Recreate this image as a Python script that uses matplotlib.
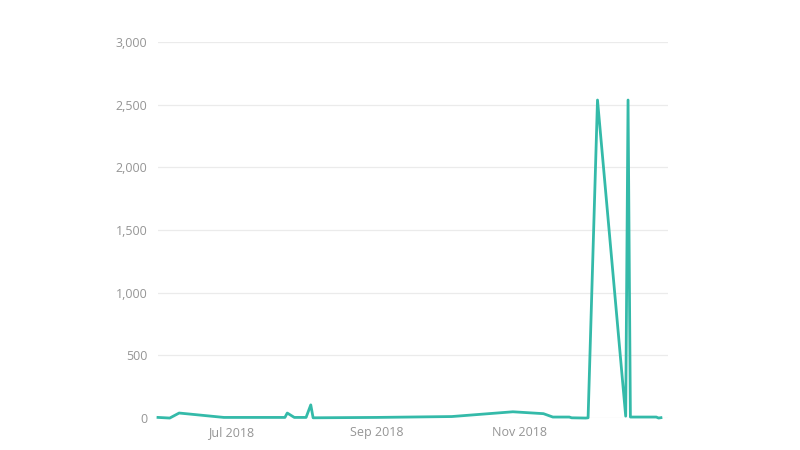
import matplotlib
matplotlib.use("Agg")
import matplotlib.pyplot as plt
import matplotlib.dates as mdates
import pandas as pd

dates = ["2018-05-31", "2018-06-05", "2018-06-09", "2018-06-28", "2018-07-24",
         "2018-07-25", "2018-07-28", "2018-08-02", "2018-08-04", "2018-08-05",
         "2018-09-01", "2018-10-03", "2018-10-29", "2018-11-11", "2018-11-15",
         "2018-11-22", "2018-11-23", "2018-11-29", "2018-11-30", "2018-12-04",
         "2018-12-16", "2018-12-17", "2018-12-18", "2018-12-29", "2018-12-30",
         "2018-12-31"]
values = [5, 0, 40, 5, 5,
          40, 5, 5, 105, 2,
          5, 12, 50, 35, 8,
          8, 2, 0, 2, 2537,
          15, 2537, 8, 8, 0,
          3]
y_ticks = [0, 500, 1000, 1500, 2000, 2500, 3000]
x_ticks = ["2018-07-01", "2018-09-01", "2018-11-01"]
x_tick_labels = ["Jul 2018", "Sep 2018", "Nov 2018"]

plt.rcParams['font.family'] = ['Open Sans', 'DejaVu Sans']

fig = plt.figure(figsize=(8, 4.5), dpi=100)
ax = fig.add_axes([0.1975, 0.071, 0.6375, 0.8357])

x = pd.to_datetime(dates)
ax.plot(x, values, color="#34BAA9", linewidth=2.0, clip_on=False, zorder=3)

ax.set_ylim(0, 3000)
ax.set_xlim(pd.Timestamp("2018-05-31"), pd.Timestamp("2019-01-03"))
ax.set_yticks(y_ticks)
ax.set_yticklabels([f"{v:,}" for v in y_ticks])
ax.set_xticks(pd.to_datetime(x_ticks))
ax.set_xticklabels(x_tick_labels)

ax.grid(axis="y", color="#EBEBEB", linewidth=0.9)
ax.set_axisbelow(True)
for s in ax.spines.values():
    s.set_visible(False)
ax.tick_params(axis="both", length=0, labelsize=9, colors="#959595")
ax.tick_params(axis="y", pad=7.5)
ax.tick_params(axis="x", pad=6)

fig.savefig("out.png", dpi=100, facecolor="white")
